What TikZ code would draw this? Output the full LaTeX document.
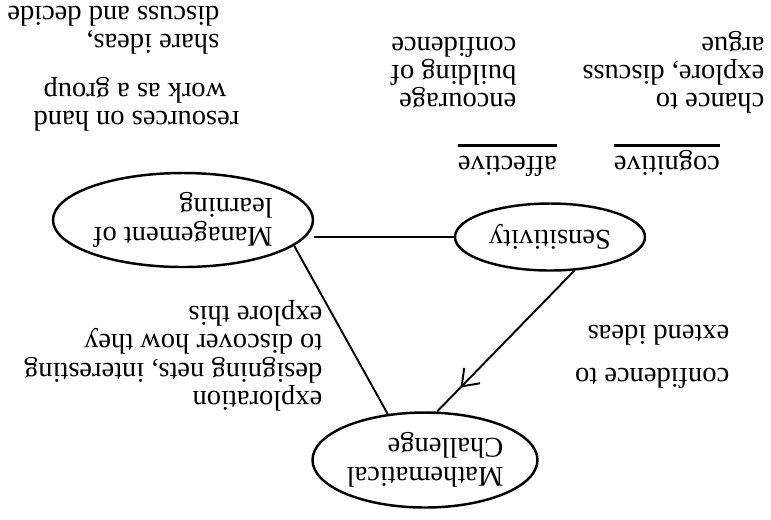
\documentclass[tikz,border=0pt]{standalone}
\usepackage{fontspec}
\setmainfont{Liberation Serif}
\usetikzlibrary{arrows.meta,decorations.markings,shapes.geometric}
\tikzset{
  bubble/.style={draw,ellipse,line width=.7pt,inner sep=0pt,align=left},
  note/.style={anchor=base west,align=left,inner sep=0pt},
  heading/.style={anchor=base west,inner sep=0pt,text depth=.6mm,outer xsep=0pt,outer ysep=.5mm},
  link/.style={line width=.55pt},
  midarrow/.style={postaction={decorate},decoration={markings,
    mark=at position #1 with {\arrow{Straight Barb[length=1.5mm,width=2.2mm]}}}}
}
\begin{document}
\begin{tikzpicture}[x=1mm,y=1mm,rotate=180,transform shape,
  font=\fontsize{8.1}{8.1}\selectfont]
\useasboundingbox (0,0) rectangle (77.1,51.9);
\node[bubble,minimum width=19mm,minimum height=6.7mm] (sens) at (22.1,23.7) {Sensitivity};
\node[bubble,minimum width=26mm,minimum height=9.4mm] (mgmt) at (58.8,22) {Management of\\learning};
\node[bubble,minimum width=22.5mm,minimum height=9.5mm] (math) at (34.6,46) {Mathematical\\Challenge};
\draw[link] (sens.east) -- (sens.east -| mgmt.west);
\draw[link,midarrow=.83] (sens.126) -- (math.256);
\draw[link] (mgmt.167) -- (math.309);
\foreach \n/\t/\x in {cog/cognitive/5.1,aff/affective/21.4}{
  \node[heading] (\n) at (\x,15.65) {\t};
  \draw[line width=.85pt] (\n.south west) -- (\n.south east);
}
\node[note] (cogl) at (0.6,3.7) {chance to\\explore, discuss\\argue};
\node[note] (affl) at (25.4,3.7) {encourage\\building of\\confidence};
\node[note] (res) at (53.1,11.15) {resources on hand};
\node[note] (grp) at (54.4,8.35) {work as a group};
\node[note] (share) at (55.1,0.65) {share ideas,\\discuss and decide};
\node[note] (conf) at (4.1,32.55) {confidence to\\[1.45mm]extend ideas};
\node[note] (expl) at (44.8,30.65) {exploration\\designing nets, interesting\\to discover how they\\explore this};
\end{tikzpicture}
\end{document}
